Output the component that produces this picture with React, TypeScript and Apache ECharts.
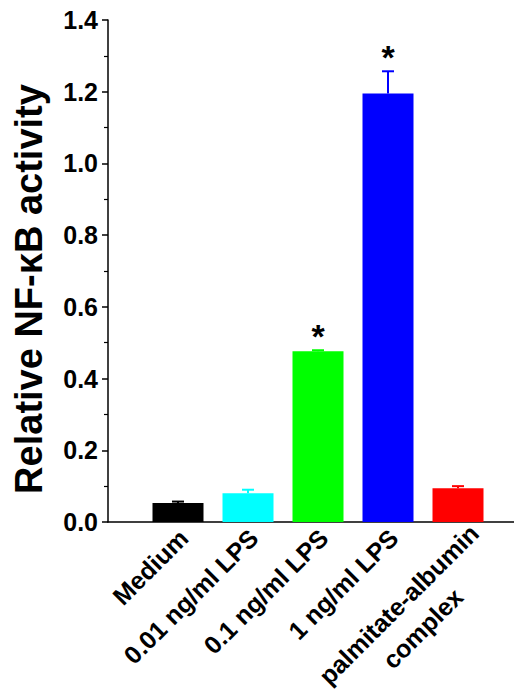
import React, { useEffect, useRef } from "react";
import * as echarts from "echarts";

const categories = ["Medium", "0.01 ng/ml LPS", "0.1 ng/ml LPS", "1 ng/ml LPS", "palmitate-albumin\ncomplex"];
const means = [0.053, 0.08, 0.476, 1.195, 0.094];
const errors = [0.004, 0.01, 0.003, 0.062, 0.006];
const barColors = ["#000000", "#00ffff", "#00ff00", "#0000ff", "#ff0000"];
const significant = [false, false, true, true, false];
const yTicks = [0, 0.2, 0.4, 0.6, 0.8, 1.0, 1.2, 1.4];

const FONT = "'Liberation Sans', Arial, Helvetica, sans-serif";

export default function App() {
  const ref = useRef<HTMLDivElement>(null);
  useEffect(() => {
    if (!ref.current) return;
    const chart = echarts.init(ref.current, null, { renderer: "svg" });
    const axisCats = [
      "",
      ...categories.map((c) => (c.includes("\n") ? { value: c, textStyle: { padding: [58, 0, 0, 0] } } : c)),
      "",
    ];
    const barData = [null, ...means.map((v, i) => ({ value: v, itemStyle: { color: barColors[i] } })), null];
    const errData = means.map((m, i) => [i + 1, m, m + errors[i], i]);
    chart.setOption({
      animation: false,
      backgroundColor: "#ffffff",
      grid: { left: 108, top: 20, bottom: 178, right: -14, containLabel: false, outerBoundsMode: "none" },
      xAxis: {
        type: "category",
        data: axisCats,
        boundaryGap: false,
        axisLine: { lineStyle: { color: "#000", width: 1.5 } },
        axisTick: { show: false },
        axisLabel: {
          interval: 0,
          rotate: 45,
          margin: 6,
          color: "#000",
          fontFamily: FONT,
          fontWeight: "bold",
          fontSize: 25,
          lineHeight: 34,
          padding: [16, 0, 0, 0],
          hideOverlap: false,
          formatter: (v: string) => {
            if (v.includes("\n")) {
              const parts = v.split("\n");
              return parts.map((p) => `{c|${p}}`).join("\n");
            }
            return v;
          },
          rich: {
            c: { width: 192, align: "center", fontFamily: FONT, fontWeight: "bold", fontSize: 25, color: "#000", lineHeight: 34 },
          },
        },
        splitLine: { show: false },
      },
      yAxis: {
        type: "value",
        min: yTicks[0],
        max: yTicks[yTicks.length - 1],
        interval: 0.2,
        name: "Relative NF-κB activity",
        nameLocation: "middle",
        nameGap: 60,
        nameTextStyle: {
          color: "#000",
          fontFamily: FONT,
          fontWeight: "bold",
          fontSize: 38,
          padding: [0, 36, 0, 0],
        },
        axisLine: { show: true, lineStyle: { color: "#000", width: 1.5 } },
        axisTick: { show: true, length: 6, lineStyle: { color: "#000", width: 1.5 } },
        minorTick: { show: true, splitNumber: 2, length: 4, lineStyle: { color: "#000", width: 1.2 } },
        splitLine: { show: false },
        axisLabel: {
          margin: 10,
          color: "#000",
          fontFamily: FONT,
          fontWeight: "bold",
          fontSize: 25,
          formatter: (v: number) => v.toFixed(1),
        },
      },
      series: [
        {
          type: "bar",
          data: barData,
          barWidth: 51,
        },
        {
          type: "custom",
          data: errData,
          z: 5,
          renderItem: (params: any, api: any) => {
            const x = api.value(0);
            const idx = api.value(3);
            const bottom = api.coord([x, api.value(1)]);
            const top = api.coord([x, api.value(2)]);
            const color = barColors[idx];
            const half = 6;
            const children: any[] = [
              { type: "line", shape: { x1: bottom[0], y1: bottom[1], x2: top[0], y2: top[1] }, style: { stroke: color, lineWidth: 2 } },
              { type: "line", shape: { x1: top[0] - half, y1: top[1], x2: top[0] + half, y2: top[1] }, style: { stroke: color, lineWidth: 2 } },
            ];
            if (significant[idx]) {
              children.push({
                type: "text",
                x: top[0],
                y: top[1] + 3,
                style: {
                  text: "*",
                  fontFamily: FONT,
                  fontWeight: "bold",
                  fontSize: 34,
                  fill: "#000",
                  align: "center",
                  verticalAlign: "bottom",
                },
              });
            }
            return { type: "group", children };
          },
        },
      ],
    });
    return () => chart.dispose();
  }, []);
  return <div ref={ref} style={{ position: "absolute", left: 0, top: 0, width: 514, height: 700, background: "#fff" }} />;
}
